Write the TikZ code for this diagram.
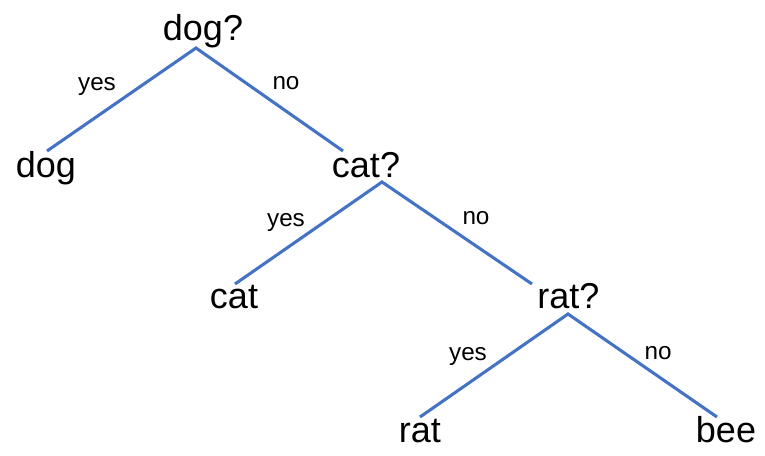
\documentclass[tikz,border=0pt]{standalone}
\usepackage{fontspec}
\setmainfont{Liberation Sans}
\definecolor{edgeblue}{HTML}{4472C4}
\begin{document}
\begin{tikzpicture}[x=0.75pt,y=-0.75pt,
  lbl/.style={anchor=base,inner sep=0pt,font=\fontsize{27}{30}\selectfont},
  edgelbl/.style={anchor=base,inner sep=0pt,font=\fontsize{18.2}{20}\selectfont},
  edge/.style={draw=edgeblue,line width=2.3pt}]
\useasboundingbox (0,0) rectangle (765,455);
% nodes
\node[lbl] (q1) at (203,40) {dog?};
\node[lbl] (dog) at (46,177) {dog};
\node[lbl] (q2) at (366,177) {cat?};
\node[lbl] (cat) at (234,308) {cat};
\node[lbl] (q3) at (568.5,308) {rat?};
\node[lbl] (rat) at (420,442) {rat};
\node[lbl] (bee) at (726,442) {bee};
% connector ends
\coordinate (q1b) at (196,48);
\coordinate (dogt) at (47,151);
\coordinate (q2t) at (343,151);
\coordinate (q2b) at (382,182);
\coordinate (catt) at (235,284);
\coordinate (q3t) at (532,284);
\coordinate (q3b) at (568,314);
\coordinate (ratt) at (420,417);
\coordinate (beet) at (717,417);
% connectors
\draw[edge] (dogt) -- (q1b) -- (q2t);
\draw[edge] (catt) -- (q2b) -- (q3t);
\draw[edge] (ratt) -- (q3b) -- (beet);
% edge labels
\node[edgelbl] (y1) at (97,90) {yes};
\node[edgelbl] (n1) at (286,89) {no};
\node[edgelbl] (y2) at (286,226) {yes};
\node[edgelbl] (n2) at (476,224) {no};
\node[edgelbl] (y3) at (468,360) {yes};
\node[edgelbl] (n3) at (658,359) {no};
\end{tikzpicture}
\end{document}
